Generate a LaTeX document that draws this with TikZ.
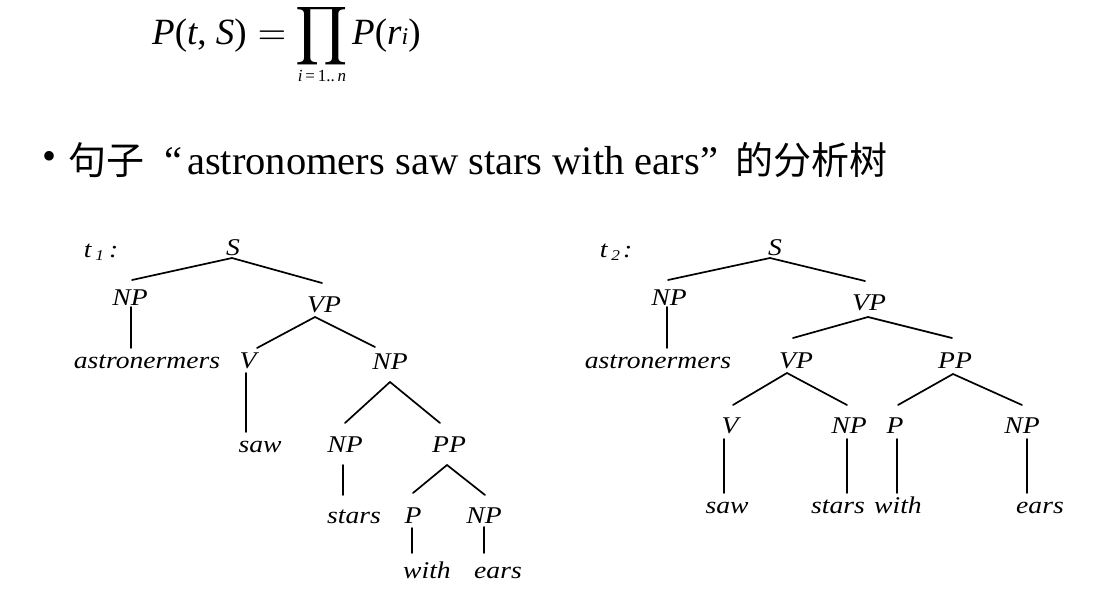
\documentclass[tikz,border=0pt]{standalone}
\usepackage{graphicx}
\usepackage{fontspec}
\setmainfont{Liberation Serif}
\newfontfamily\cjk{Noto Sans CJK SC}
\newfontfamily\treefont[FakeStretch=1.15]{Liberation Serif}
\newcommand\tedge[4]{\draw[br] ([shift={(#2)}]#1.base) -- ([shift={(#4)}]#3.base);}
\begin{document}
\begin{tikzpicture}[x=1pt,y=-1pt,
  lbl/.style={anchor=base,inner sep=0pt,font=\treefont\itshape\fontsize{24}{24}\selectfont},
  br/.style={line width=1.7pt,line cap=round},
  txt/.style={anchor=base west,inner sep=0pt}]
\useasboundingbox (0,0) rectangle (1101,599);
% formula
\node[txt,font=\fontsize{37}{40}\selectfont] (f1) at (152,45) {\textit{P}(\textit{t}, \textit{S})};
\node[anchor=base,inner sep=0pt] (feq) at (272,45) {\scalebox{3.7}{$=$}};
\node[inner sep=0pt] (fprod) at (322,36) {\scalebox{4.1}{$\displaystyle\prod$}};
\node[anchor=base,inner sep=0pt,font=\fontsize{17}{17}\selectfont] (fsub) at (322,82) {\textit{i}\,=\,1..\,\textit{n}};
\node[txt,font=\fontsize{37}{40}\selectfont] (f2) at (352,45) {\textit{P}(\textit{r}{\fontsize{24}{24}\selectfont\textit{i}})};
% heading
\node[inner sep=0pt,font=\fontsize{40}{40}\selectfont] (bul) at (50,160) {•};
\node[txt,font=\cjk\fontsize{38}{40}\selectfont] (h1) at (68,175) {句子};
\node[txt,font=\fontsize{40.5}{41}\selectfont] (h2) at (164,175) {“};
\node[txt,font=\fontsize{40.5}{41}\selectfont] (h3) at (187,175) {astronomers saw stars with ears};
\node[txt,font=\fontsize{40.5}{41}\selectfont] (h4) at (700,175) {”};
\node[txt,font=\cjk\fontsize{38}{40}\selectfont] (h5) at (735,175) {的分析树};
% tree t1
\node[lbl] (tl1) at (101,257) {t\hspace{4pt}\raisebox{-3pt}{\fontsize{15}{15}\selectfont 1}\hspace{5pt}:};
\node[lbl] (aS) at (233,255) {S};
\node[lbl] (aNP1) at (130,305) {NP};
\node[lbl] (aVP) at (324,312) {VP};
\node[lbl] (aast) at (147,368) {astronermers};
\node[lbl] (aV) at (248,368) {V};
\node[lbl] (aNP2) at (390,369) {NP};
\node[lbl] (asaw) at (260,452) {saw};
\node[lbl] (aNP3) at (345,452) {NP};
\node[lbl] (aPP) at (449,452) {PP};
\node[lbl] (astars) at (354,523) {stars};
\node[lbl] (aP) at (413,523) {P};
\node[lbl] (aNP4) at (484,523) {NP};
\node[lbl] (awith) at (427,578) {with};
\node[lbl] (aears) at (498,578) {ears};
\tedge{aS}{-1,3}{aNP1}{2,-25}
\tedge{aS}{-1,3}{aVP}{-2,-29}
\tedge{aNP1}{1,2}{aast}{-16,-20}
\tedge{aVP}{-9,5}{aV}{9,-20}
\tedge{aVP}{-9,5}{aNP2}{-15,-22}
\tedge{aV}{-2,5}{asaw}{-14,-20}
\tedge{aNP2}{0,13}{aNP3}{0,-29}
\tedge{aNP2}{0,13}{aPP}{-9,-29}
\tedge{aNP3}{-2,13}{astars}{-11,-28}
\tedge{aPP}{-2,13}{aP}{0,-30}
\tedge{aPP}{-2,13}{aNP4}{1,-28}
\tedge{aP}{-1,5}{awith}{-15,-25}
\tedge{aNP4}{0,4}{aears}{-14,-25}
% tree t2
\node[lbl] (tl2) at (616,257) {t\hspace{4pt}\raisebox{-3pt}{\fontsize{15}{15}\selectfont 2}\hspace{3pt}:};
\node[lbl] (bS) at (775,255) {S};
\node[lbl] (bNP1) at (669,305) {NP};
\node[lbl] (bVP) at (869,310) {VP};
\node[lbl] (bast) at (658,368) {astronermers};
\node[lbl] (bVP2) at (796,368) {VP};
\node[lbl] (bPP) at (955,368) {PP};
\node[lbl] (bV) at (730,433) {V};
\node[lbl] (bNP2) at (849,433) {NP};
\node[lbl] (bP) at (895,433) {P};
\node[lbl] (bNP3) at (1022,433) {NP};
\node[lbl] (bsaw) at (727,513) {saw};
\node[lbl] (bstars) at (838,513) {stars};
\node[lbl] (bwith) at (898,513) {with};
\node[lbl] (bears) at (1040,513) {ears};
\tedge{bS}{-5,3}{bNP1}{-1,-25}
\tedge{bS}{-5,3}{bVP}{-4,-29}
\tedge{bNP1}{-2,2}{bast}{9,-20}
\tedge{bVP}{-1,7}{bVP2}{-3,-30}
\tedge{bVP}{-1,7}{bPP}{-3,-30}
\tedge{bVP2}{-9,5}{bV}{3,-28}
\tedge{bVP2}{-9,5}{bNP2}{-2,-28}
\tedge{bPP}{-2,6}{bP}{3,-28}
\tedge{bPP}{-2,6}{bNP3}{0,-28}
\tedge{bV}{-6,6}{bsaw}{-3,-20}
\tedge{bNP2}{-2,6}{bstars}{9,-20}
\tedge{bP}{2,6}{bwith}{-1,-20}
\tedge{bNP3}{5,6}{bears}{-13,-20}
\end{tikzpicture}
\end{document}
